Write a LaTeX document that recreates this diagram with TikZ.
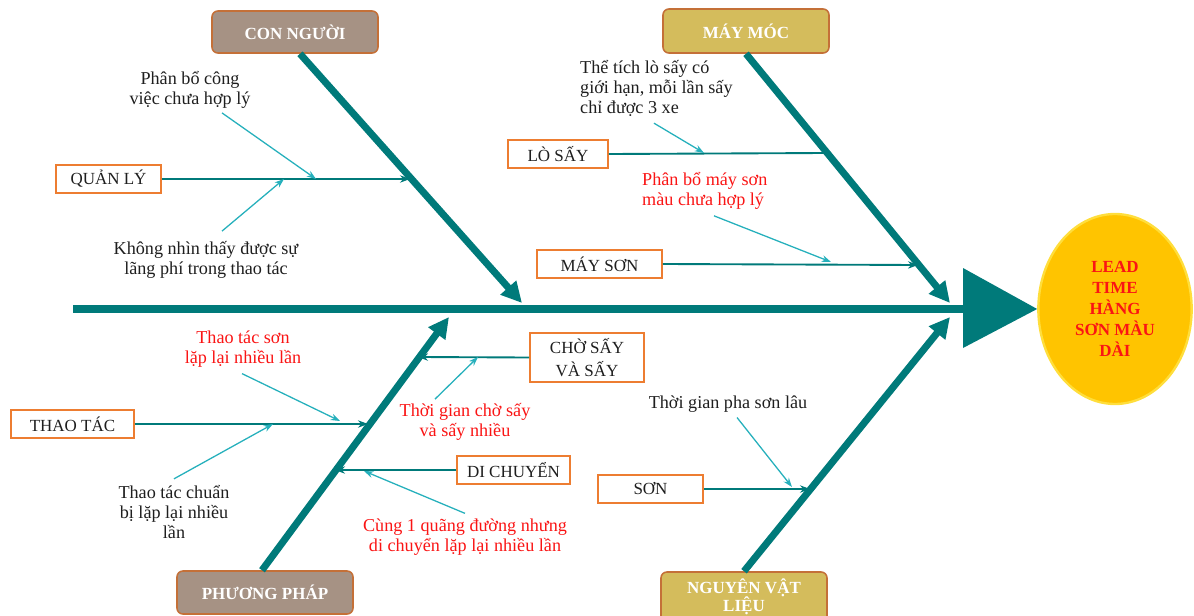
\documentclass[tikz,border=0pt]{standalone}
\usepackage{fontspec}
\setmainfont{Liberation Serif}
\usetikzlibrary{arrows.meta,shapes.geometric,calc}
\definecolor{bone}{RGB}{0,122,122}
\definecolor{cause}{RGB}{38,176,188}
\definecolor{boxline}{RGB}{237,125,49}
\definecolor{catline}{RGB}{196,112,56}
\definecolor{manfill}{RGB}{166,146,132}
\definecolor{goldfill}{RGB}{212,188,92}
\definecolor{effectfill}{RGB}{255,196,0}
\definecolor{effectrim}{RGB}{255,222,60}
\definecolor{ink}{RGB}{30,30,30}
\definecolor{redtext}{RGB}{250,20,20}
\tikzset{
  catbox/.style={draw=catline, line width=1.3pt, rounded corners=5pt, text=white,
    font=\fontsize{14.5}{17}\selectfont\bfseries, align=center, inner sep=0pt},
  subbox/.style={draw=boxline, line width=1.3pt, fill=white, text=ink,
    font=\fontsize{14.5}{17}\selectfont, align=center, inner sep=0pt},
  note/.style={text=ink, font=\fontsize{15.5}{17.3}\selectfont, inner sep=0pt},
  rednote/.style={note, text=redtext},
  majorbone/.style={draw=bone, line width=6pt, -{Triangle[length=0.62cm,width=0.6cm]}},
  minorbone/.style={draw=bone, line width=1.6pt, -{Stealth[length=0.3cm,width=0.22cm]}},
  causearrow/.style={draw=cause, line width=1.1pt, -{Stealth[length=0.28cm,width=0.2cm]}},
}
\begin{document}
\begin{tikzpicture}[x=0.03cm,y=-0.03cm]
\useasboundingbox (0,0) rectangle (1194,616);
\clip (0,0) rectangle (1194,616);

% effect
\node[ellipse, fill=effectfill, draw=effectrim, line width=2pt,
  minimum width=4.6cm, minimum height=5.7cm, text=redtext, align=center,
  font=\fontsize{14.5}{17.8}\selectfont\bfseries] (effect) at (1115,309)
  {LEAD\\TIME\\HÀNG\\SƠN MÀU\\DÀI};

% spine
\coordinate (tail) at (73,309);
\coordinate (headbase) at (963,309);
\draw[bone, line width=7pt] (tail) -- (headbase);
\fill[bone] (963,268) -- (effect.west) -- (963,348) -- cycle;

% category boxes
\node[catbox, fill=manfill, minimum width=4.98cm, minimum height=1.26cm] (man) at (295,32) {CON NGƯỜI};
\node[catbox, fill=goldfill, minimum width=4.98cm, minimum height=1.32cm] (machine) at (746,31) {MÁY MÓC};
\node[catbox, fill=manfill, minimum width=5.28cm, minimum height=1.29cm] (method) at (265,592.5) {PHƯƠNG PHÁP};
\node[catbox, fill=goldfill, minimum width=4.98cm, minimum height=1.5cm] (material) at (744,597) {NGUYÊN VẬT\\[-2pt]LIỆU};

% main bones
\coordinate (manEnd) at (522,303);
\coordinate (machineEnd) at (950,303);
\coordinate (methodEnd) at (449,317);
\coordinate (materialEnd) at (950,317);
\draw[majorbone] ($(man.south)+(5,0)$) -- (manEnd);
\draw[majorbone] (machine.south) -- (machineEnd);
\draw[majorbone] ($(method.north)+(-3,0)$) -- (methodEnd);
\draw[majorbone] (material.north) -- (materialEnd);

% sub-cause boxes
\node[subbox, minimum width=3.15cm, minimum height=0.84cm] (mgmt) at (108.5,179) {QUẢN LÝ};
\node[subbox, minimum width=3.0cm, minimum height=0.84cm] (oven) at (558,154) {LÒ SẤY};
\node[subbox, minimum width=3.75cm, minimum height=0.84cm] (sprayer) at (599.5,264) {MÁY SƠN};
\node[subbox, minimum width=3.42cm, minimum height=1.47cm, font=\fontsize{14.5}{19}\selectfont] (drying) at (587,357.5) {CHỜ SẤY\\VÀ SẤY};
\node[subbox, minimum width=3.69cm, minimum height=0.84cm] (handling) at (72.5,424) {THAO TÁC};
\node[subbox, minimum width=3.39cm, minimum height=0.84cm] (moving) at (513.5,470) {DI CHUYỂN};
\node[subbox, minimum width=3.15cm, minimum height=0.84cm] (paint) at (650.5,489) {SƠN};

% points on the main bones
\coordinate (mgmtEnd) at (410,179);
\coordinate (ovenEnd) at (826,153);
\coordinate (sprayerEnd) at (918,265);
\coordinate (dryingEnd) at (418,357);
\coordinate (handlingEnd) at (368,424);
\coordinate (movingEnd) at (335,470);
\coordinate (paintEnd) at (810,489);

\draw[minorbone] (mgmt.east) -- (mgmtEnd);
\draw[bone, line width=1.6pt] (oven.east) -- (ovenEnd);
\draw[minorbone] (sprayer.east) -- (sprayerEnd);
\draw[minorbone] (drying.west) -- (dryingEnd);
\draw[minorbone] (handling.east) -- (handlingEnd);
\draw[minorbone] (moving.west) -- (movingEnd);
\draw[minorbone] (paint.east) -- (paintEnd);

% causes
\node[note, align=center] (c1) at (190,90) {Phân bổ công\\việc chưa hợp lý};
\node[note, align=center] (c2) at (206,260) {Không nhìn thấy được sự\\lãng phí trong thao tác};
\node[note, align=left, anchor=north west] (c3) at (580,60) {Thể tích lò sấy có\\giới hạn, mỗi lần sấy\\chỉ được 3 xe};
\node[rednote, align=left, anchor=north west] (c4) at (642,172) {Phân bổ máy sơn\\màu chưa hợp lý};
\node[rednote, align=center] (c5) at (243,349) {Thao tác sơn\\lặp lại nhiều lần};
\node[note, align=center] (c6) at (174,512) {Thao tác chuẩn\\bị lặp lại nhiều\\lần};
\node[rednote, align=center] (c7) at (465,422) {Thời gian chờ sấy\\và sấy nhiều};
\node[rednote, align=center] (c8) at (465,537) {Cùng 1 quãng đường nhưng\\di chuyển lặp lại nhiều lần};
\node[note] (c9) at (728,404) {Thời gian pha sơn lâu};

\coordinate (a1) at (316,179);
\coordinate (a2) at (284,179);
\coordinate (a3) at (704,153);
\coordinate (a4) at (831,262);
\coordinate (a5) at (340,421);
\coordinate (a6) at (273,424);
\coordinate (a7) at (478,357);
\coordinate (a8) at (364,471);
\coordinate (a9) at (792,487);

\draw[causearrow] ($(c1.south)+(32,4)$) -- (a1);
\draw[causearrow] ($(c2.north)+(16,-10)$) -- (a2);
\draw[causearrow] ($(c3.south west)+(74,6)$) -- (a3);
\draw[causearrow] ($(c4.south west)+(72,6)$) -- (a4);
\draw[causearrow] ($(c5.south)+(-1,6)$) -- (a5);
\draw[causearrow] ($(c6.north)+(0,-6)$) -- (a6);
\draw[causearrow] ($(c7.north)+(-30,-4)$) -- (a7);
\draw[causearrow] ($(c8.north)+(0,-5)$) -- (a8);
\draw[causearrow] ($(c9.south)+(9,5)$) -- (a9);
\end{tikzpicture}
\end{document}
